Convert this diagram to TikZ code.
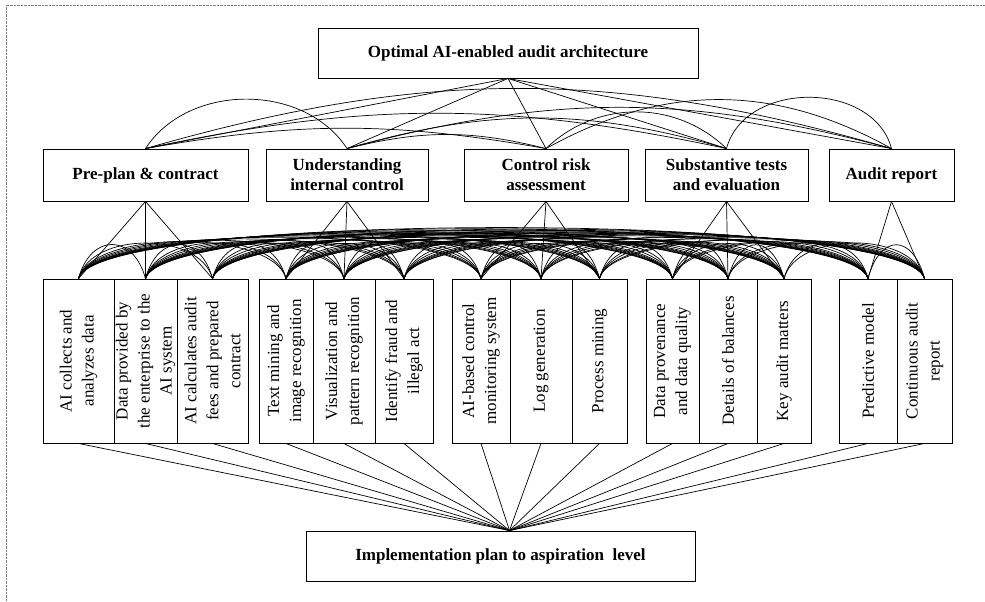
\documentclass[tikz,border=0pt]{standalone}
\usepackage{fontspec}
\setmainfont{Liberation Serif}
\usetikzlibrary{positioning,calc}
\tikzset{
  phase/.style={draw=black, line width=0.9pt, inner sep=0pt, align=center,
    font=\bfseries\fontsize{17}{20}\selectfont},
  task/.style={draw=black, line width=0.9pt, inner sep=0pt, align=center, rotate=90,
    minimum width=164pt, font=\fontsize{17}{22}\selectfont},
  link/.style={draw=black, line width=0.7pt},
  arc/.style={draw=black, line width=0.7pt}
}

\begin{document}
\begin{tikzpicture}[x=1pt, y=1pt]
    \useasboundingbox (0,0) rectangle (985,-602);
    \draw[gray, densely dotted] (6,-602) -- (6,-5) -- (985,-5);

    % top goal and bottom plan
    \node[phase, minimum width=380, minimum height=50] (goal) at (508,-53) {Optimal AI-enabled audit architecture};
    \node[phase, minimum width=389, minimum height=50] (plan) at (500.5,-556) {Implementation plan to aspiration\ \ level};

    % audit phases
    \foreach \n/\x/\w/\t in {p1/145.5/205/{Pre-plan \& contract},
                             p2/347/162/{Understanding\\internal control},
                             p3/546/164/{Control risk\\assessment},
                             p4/726.5/163/{Substantive tests\\and evaluation},
                             p5/891.5/125/{Audit report}}
      \node[phase, minimum width=\w, minimum height=52] (\n) at (\x,-175) {\t};

    % AI techniques (rotated, so east is the top side)
    \foreach \n/\x/\w/\t in {b1/78.5/71/{AI collects and\\analyzes data},
                             b2/145.5/63/{Data provided by\\the enterprise to the\\AI system},
                             b3/212.5/71/{AI calculates audit\\fees and prepared\\contract},
                             b4/286/54/{Text mining and\\image recognition},
                             b5/344/62/{Visualization and\\pattern recognition},
                             b6/404/58/{Identify fraud and\\illegal act},
                             b7/481/58/{AI-based control\\monitoring system},
                             b8/541/62/{Log generation},
                             b9/599.5/55/{Process mining},
                             b10/672.5/53/{Data provenance\\and data quality},
                             b11/728/58/{Details of balances},
                             b12/784/54/{Key audit matters},
                             b13/868/58/{Predictive model},
                             b14/924.5/55/{Continuous audit\\report}}
      \node[task, minimum height=\w] (\n) at (\x,-361) {\t};

    % goal to phases
    \foreach \n in {p1,p2,p3,p4,p5}
      \draw[link] (goal.south) -- (\n.north);

    % relations between phases
    \foreach \a/\b/\k in {p1/p2/57, p1/p3/10, p1/p4/12, p1/p5/16, p2/p3/14,
                          p2/p4/16, p2/p5/15, p3/p4/44, p3/p5/29}
      \draw[arc] (\a.north) to[bend left=\k] (\b.north);
    \draw[arc] (p4.north) to[bend left=75, looseness=1.1] (p5.north);

    % phases to techniques
    \foreach \a/\b in {p1/b1, p1/b2, p1/b3, p2/b4, p2/b5, p2/b6, p3/b7, p3/b8, p3/b9,
                       p4/b10, p4/b11, p4/b12, p5/b13, p5/b14}
      \draw[link] (\a.south) -- (\b.east);

    % relations between techniques
    \foreach \i in {1,...,13} {
      \pgfmathtruncatemacro\s{\i+1}
      \foreach \j in {\s,...,14}
        \draw[arc] let \p1=(b\i.east), \p2=(b\j.east), \n1={45+0.03*(\x2-\x1)} in
          (b\i.east) to[out=75, in=105, distance=\n1] (b\j.east);
    }

    % techniques to plan
    \foreach \n in {1,...,14}
      \draw[link] (b\n.west) -- ([xshift=9pt]plan.north);
  \end{tikzpicture}
\end{document}
